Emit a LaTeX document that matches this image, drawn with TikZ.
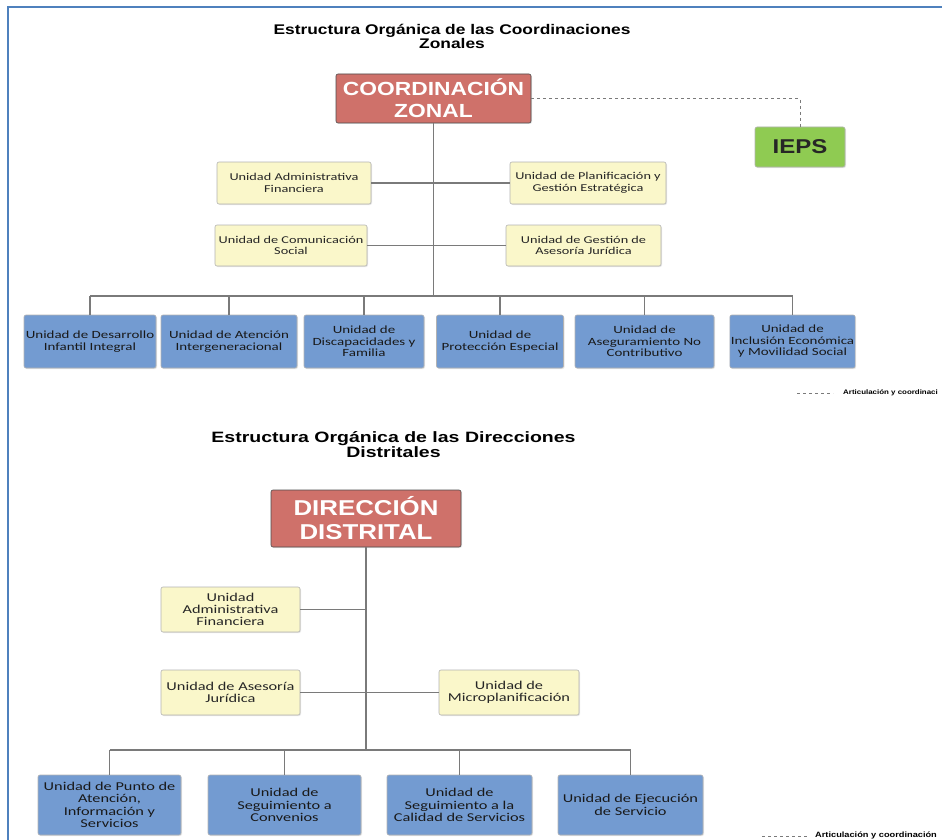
\documentclass[tikz,border=0pt]{standalone}
\usepackage{fontspec}
\setmainfont{Carlito}
\newfontfamily\boxfont[FakeStretch=1.36]{Carlito}
\newfontfamily\headfont[FakeStretch=1.2]{Liberation Sans}
\newfontfamily\titlefont[FakeStretch=1.24]{Liberation Sans}
\newfontfamily\titlewide[FakeStretch=1.3]{Liberation Sans}
\usetikzlibrary{shadows}
\definecolor{framecol}{HTML}{4F81BD}
\definecolor{headcol}{HTML}{CF716A}
\definecolor{iepscol}{HTML}{8FCB52}
\definecolor{unitcol}{HTML}{FAF7CA}
\definecolor{areacol}{HTML}{739BD1}
\definecolor{linecol}{HTML}{7A7A7A}
\begin{document}
\begin{tikzpicture}[x=1pt,y=-1pt,
        box/.style={rectangle,rounded corners=2pt,draw=gray!80!black,line width=0.6pt,
            align=center,inner sep=1pt,drop shadow={opacity=0.2,shadow xshift=1pt,shadow yshift=-1pt}},
        head/.style={box,fill=headcol,draw=black!70,text=white,font=\headfont\bfseries\fontsize{19}{22}\selectfont},
        ieps/.style={box,fill=iepscol,draw=gray!60,text=black!85,font=\headfont\bfseries\fontsize{20}{22}\selectfont},
        unit/.style={box,fill=unitcol,draw=gray!60,text=black!85,font=\boxfont\fontsize{10.5}{11.5}\selectfont}, % staff units
        area/.style={box,fill=areacol,draw=gray!60,text=black!90,font=\boxfont\fontsize{11}{11.5}\selectfont},
        big/.style={font=\boxfont\fontsize{12}{12.5}\selectfont},
        title/.style={align=center,font=\titlefont\bfseries\fontsize{14}{14}\selectfont},
        link/.style={draw=linecol,line width=1.3pt},
        legend/.style={font=\headfont\bfseries\fontsize{7.7}{8}\selectfont,anchor=west,inner sep=0pt}
    ]
    \useasboundingbox (0,0) rectangle (942,840);
    \draw[framecol,line width=2.5pt] (8,842) -- (8,7) -- (944,7);

    % Coordinaciones Zonales
    \node[title] (t1) at (452,36) {Estructura Orgánica de las Coordinaciones\\Zonales};
    \node[head,minimum width=195pt,minimum height=49pt] (cz) at (433.5,98.5) {COORDINACIÓN\\ZONAL};
    \node[ieps,minimum width=90pt,minimum height=40pt] (ieps) at (800,147) {IEPS};
    \node[unit,minimum width=154pt,minimum height=42pt] (uaf) at (294,183) {Unidad Administrativa\\Financiera};
    \node[unit,minimum width=156pt,minimum height=42pt] (upg) at (588,183) {Unidad de Planificación y\\Gestión Estratégica};
    \node[unit,minimum width=152pt,minimum height=41pt] (ucs) at (291,245.5) {Unidad de Comunicación\\Social};
    \node[unit,minimum width=155pt,minimum height=41pt] (uaj) at (583.5,245.5) {Unidad de Gestión de\\Asesoría Jurídica};
    \coordinate (bus1) at (433.5,296);
    \node[area,minimum width=132pt,minimum height=53pt] (z1) at (90,341.5) {Unidad de Desarrollo\\Infantil Integral};
    \node[area,minimum width=136pt,minimum height=53pt] (z2) at (229,341.5) {Unidad de Atención\\Intergeneracional};
    \node[area,minimum width=120pt,minimum height=53pt] (z3) at (364,341.5) {Unidad de\\Discapacidades y\\Familia};
    \node[area,minimum width=127pt,minimum height=53pt] (z4) at (500,341.5) {Unidad de\\Protección Especial};
    \node[area,minimum width=139pt,minimum height=53pt] (z5) at (644.5,341.5) {Unidad de\\Aseguramiento No\\Contributivo};
    \node[area,minimum width=123pt,minimum height=53pt] (z6) at (792.5,341.5) {Unidad de\\Inclusión Económica\\y Movilidad Social};

    \draw[link] (cz.south) -- (bus1);
    \draw[link] (uaf) -- (upg);
    \draw[link] (ucs) -- (uaj);
    \draw[link] (z1.north |- bus1) -- (z6.north |- bus1);
    \foreach \n in {z1,z2,z3,z4,z5,z6}
        \draw[link] (\n.north |- bus1) -- (\n.north);
    \draw[linecol,line width=0.8pt,dashed] (cz.east) -| (ieps.north);

    \coordinate (la1) at (797,393);
    \coordinate (lb1) at (833,393);
    \draw[linecol,line width=0.8pt,dashed] (la1) -- (lb1);
    \node[legend,font=\headfont\bfseries\fontsize{6.6}{8}\selectfont] (lt1) at (843,393) {Articulación y coordinaci};

    % Direcciones Distritales
    \node[title,font=\titlewide\bfseries\fontsize{15}{14}\selectfont] (t2) at (393.5,445) {Estructura Orgánica de las Direcciones\\Distritales};
    \node[head,minimum width=190pt,minimum height=57pt,font=\headfont\bfseries\fontsize{21.5}{24}\selectfont] (dd) at (366,518.5) {DIRECCIÓN\\DISTRITAL};
    \node[unit,big,minimum width=139pt,minimum height=45pt,font=\boxfont\fontsize{12}{12}\selectfont] (daf) at (230.5,609.5) {Unidad\\Administrativa\\Financiera};
    \node[unit,big,minimum width=139pt,minimum height=45pt] (daj) at (230.5,692.5) {Unidad de Asesoría\\Jurídica};
    \node[unit,big,minimum width=140pt,minimum height=45pt] (dmp) at (509,692.5) {Unidad de\\Microplanificación};
    \coordinate (bus2) at (366,750);
    \node[area,big,minimum width=143pt,minimum height=60pt] (d1) at (109.5,805) {Unidad de Punto de\\Atención,\\Información y\\Servicios};
    \node[area,big,minimum width=153pt,minimum height=60pt] (d2) at (284.5,805) {Unidad de\\Seguimiento a\\Convenios};
    \node[area,big,minimum width=145pt,minimum height=60pt] (d3) at (459.5,805) {Unidad de\\Seguimiento a la\\Calidad de Servicios};
    \node[area,big,minimum width=145pt,minimum height=60pt] (d4) at (630.5,805) {Unidad de Ejecución\\de Servicio};

    \draw[link] (dd.south) -- (bus2);
    \draw[link] (daf.east) -- (daf.east -| dd.south);
    \draw[link] (daj) -- (dmp);
    \draw[link] (d1.north |- bus2) -- (d4.north |- bus2);
    \foreach \n in {d1,d2,d3,d4}
        \draw[link] (\n.north |- bus2) -- (\n.north);

    \coordinate (la2) at (762,836);
    \coordinate (lb2) at (808,836);
    \draw[linecol,line width=0.8pt,dashed] (la2) -- (lb2);
    \node[legend] (lt2) at (815,835) {Articulación y coordinación};
\end{tikzpicture}
\end{document}
